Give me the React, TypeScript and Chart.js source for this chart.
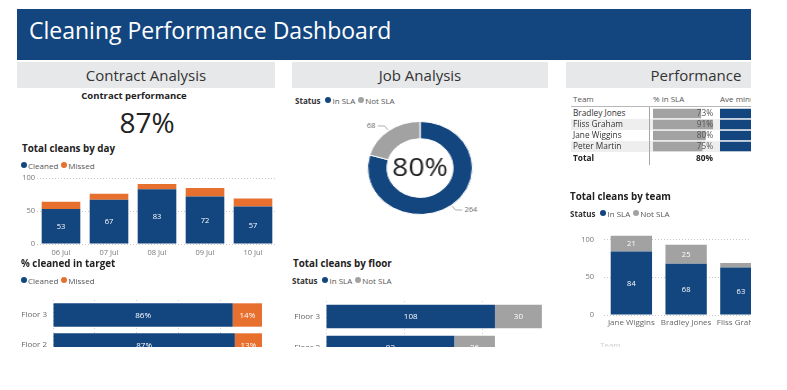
import React, { useEffect, useRef } from 'react';
import { Chart, registerables } from 'chart.js';

Chart.register(...registerables);

const FONT = '"Open Sans", "Noto Sans", sans-serif';
Chart.defaults.font.family = FONT;

const BLUE = '#13467F';
const ORANGE = '#E8702F';
const GRAY = '#A2A2A2';
const PANEL = '#E7E8EA';

// ---------------- data ----------------
const daySeries = ['Cleaned', 'Missed'];
const dayLabels = ['06 Jul', '07 Jul', '08 Jul', '09 Jul', '10 Jul'];
const dayCleaned = [53, 67, 83, 72, 57];
const dayMissed = [11, 9, 8, 13, 12];
const dayTicks = [0, 50, 100];

const contractPerformance = 87;

const targetFloors = ['Floor 3', 'Floor 2', 'Floor 1'];
const targetCleaned = [86, 87, 85];
const targetMissed = [14, 13, 15];
const targetTicks = [0, 20, 40, 60, 80, 100];

const slaSeries = ['In SLA', 'Not SLA'];
const jobValues = [264, 68];

const floorLabels = ['Floor 3', 'Floor 2', 'Floor 1'];
const floorInSla = [108, 82, 74];
const floorNotSla = [30, 26, 12];
const floorTicks = [0, 50, 100];

const teamLabels = ['Jane Wiggins', 'Bradley Jones', 'Fliss Graham', 'Peter Martin'];
const teamInSla = [84, 68, 63, 49];
const teamNotSla = [21, 25, 6, 16];
const teamTicks = [0, 50, 100];
const teamAxisTitle = 'Team';

const tableTeams = ['Bradley Jones', 'Fliss Graham', 'Jane Wiggins', 'Peter Martin'];
const tablePctSla = [73, 91, 80, 75];
const tableAveMin = [38, 41, 36, 40];
const tableTotalPct = 80;

// ---------------- helpers ----------------
function makeValueLabels(format: (v: number) => string, minLen = 12, size = 7.5) {
  return {
    id: 'valueLabels',
    afterDatasetsDraw(chart: any) {
      const { ctx } = chart;
      const horizontal = chart.options.indexAxis === 'y';
      ctx.save();
      ctx.font = `${size}px ${FONT}`;
      ctx.fillStyle = '#ffffff';
      ctx.textAlign = 'center';
      ctx.textBaseline = 'middle';
      chart.data.datasets.forEach((ds: any, di: number) => {
        if (ds.noLabels) return;
        const meta = chart.getDatasetMeta(di);
        meta.data.forEach((el: any, i: number) => {
          const p = el.getProps(['x', 'y', 'base'], true);
          const len = Math.abs(p.base - (horizontal ? p.x : p.y));
          if (len < minLen) return;
          const cx = horizontal ? (p.x + p.base) / 2 : p.x;
          const cy = horizontal ? p.y : (p.y + p.base) / 2;
          ctx.fillText(format(ds.data[i]), cx, cy + 0.5);
        });
      });
      ctx.restore();
    },
  };
}

const donutDecor = {
  id: 'donutDecor',
  afterDatasetsDraw(chart: any) {
    const { ctx } = chart;
    const meta = chart.getDatasetMeta(0);
    const data = chart.data.datasets[0].data as number[];
    const total = data.reduce((a, b) => a + b, 0);
    ctx.save();
    let cxx = 0, cyy = 0;
    meta.data.forEach((arc: any, i: number) => {
      const { x, y, startAngle, endAngle, outerRadius } = arc.getProps(['x', 'y', 'startAngle', 'endAngle', 'outerRadius'], true);
      cxx = x; cyy = y;
      const mid = (startAngle + endAngle) / 2;
      const c = Math.cos(mid), s = Math.sin(mid);
      const p1 = { x: x + c * (outerRadius + 1), y: y + s * (outerRadius + 1) };
      const p2 = { x: x + c * (outerRadius + 6), y: y + s * (outerRadius + 6) };
      const dir = c >= 0 ? 1 : -1;
      const p3 = { x: p2.x + dir * 6, y: p2.y };
      ctx.strokeStyle = '#9a9a9a';
      ctx.lineWidth = 0.8;
      ctx.beginPath();
      ctx.moveTo(p1.x, p1.y);
      ctx.lineTo(p2.x, p2.y);
      ctx.lineTo(p3.x, p3.y);
      ctx.stroke();
      ctx.fillStyle = '#666';
      ctx.font = `6.5px ${FONT}`;
      ctx.textBaseline = 'middle';
      ctx.textAlign = dir > 0 ? 'left' : 'right';
      ctx.fillText(String(data[i]), p3.x + dir * 2, p3.y);
    });
    ctx.fillStyle = '#222';
    ctx.font = `25px ${FONT}`;
    ctx.textAlign = 'center';
    ctx.textBaseline = 'middle';
    ctx.fillText(`${Math.round((data[0] / total) * 100)}%`, cxx, cyy + 1);
    ctx.restore();
  },
};

function ChartBox({ left, top, width, height, make, style }: any) {
  const ref = useRef<HTMLCanvasElement>(null);
  useEffect(() => {
    const chart = new Chart(ref.current as HTMLCanvasElement, make());
    return () => chart.destroy();
  }, []);
  return (
    <div style={{ position: 'absolute', left, top, width, height, ...(style || {}) }}>
      <canvas ref={ref} />
    </div>
  );
}

function Txt({ x, y, size, children, weight = 400, color = '#333', align = 'left' }: any) {
  const tx = align === 'center' ? '-50%' : align === 'right' ? '-100%' : '0';
  return (
    <div
      style={{
        position: 'absolute', left: x, top: y - size / 2, fontSize: size, lineHeight: `${size}px`,
        fontWeight: weight, color, whiteSpace: 'nowrap', transform: `translateX(${tx})`, fontFamily: FONT,
      }}
    >
      {children}
    </div>
  );
}

function Legend({ x, y, items, status }: any) {
  return (
    <div
      style={{
        position: 'absolute', left: x, top: y - 5, height: 10, display: 'flex', alignItems: 'center',
        fontSize: 8, color: '#555', whiteSpace: 'nowrap', fontFamily: FONT,
      }}
    >
      {status && <span style={{ fontWeight: 700, color: '#333', marginRight: 5 }}>Status</span>}
      {items.map((it: any) => (
        <span key={it.label} style={{ display: 'flex', alignItems: 'center', marginRight: 3 }}>
          <span style={{ width: 6, height: 6, borderRadius: 3, background: it.color, marginRight: 1, display: 'inline-block' }} />
          {it.label}
        </span>
      ))}
    </div>
  );
}

const baseOpts = {
  animation: false,
  responsive: true,
  maintainAspectRatio: false,
  plugins: { legend: { display: false }, tooltip: { enabled: false } },
};

const tickFont = { size: 7.5 };

const fixY = (w: number) => (s: any) => { s.width = w; s.paddingTop = 0; s.paddingBottom = 0; };
const fixX = (h: number) => (s: any) => { s.height = h; s.paddingLeft = 0; s.paddingRight = 0; };

// ---------------- chart configs ----------------
const makeDay = () => ({
  type: 'bar',
  data: {
    labels: dayLabels,
    datasets: [
      { label: daySeries[0], data: dayCleaned, backgroundColor: BLUE, barPercentage: 0.805, categoryPercentage: 1 },
      { label: daySeries[1], data: dayMissed, backgroundColor: ORANGE, barPercentage: 0.805, categoryPercentage: 1, noLabels: true },
    ],
  },
  options: {
    ...baseOpts,
    layout: { padding: { top: 6, left: 0, right: 0, bottom: 0 } },
    scales: {
      x: {
        stacked: true, grid: { display: false, drawTicks: false }, border: { display: false },
        ticks: { color: '#777', font: tickFont, padding: 4, maxRotation: 0 },
        afterFit: fixX(14),
      },
      y: {
        stacked: true, min: 0, max: 100,
        afterBuildTicks: (s: any) => { s.ticks = dayTicks.map((v) => ({ value: v })); },
        grid: { color: '#c8c8c8', drawTicks: false },
        border: { display: false, dash: [1, 2] },
        ticks: { color: '#777', font: tickFont, padding: 2 },
        afterFit: fixY(20),
      },
    },
  },
  plugins: [makeValueLabels((v) => String(v))],
});

const makeTarget = () => ({
  type: 'bar',
  data: {
    labels: targetFloors,
    datasets: [
      { label: daySeries[0], data: targetCleaned, backgroundColor: BLUE, barPercentage: 0.78, categoryPercentage: 1 },
      { label: daySeries[1], data: targetMissed, backgroundColor: ORANGE, barPercentage: 0.78, categoryPercentage: 1 },
    ],
  },
  options: {
    ...baseOpts,
    indexAxis: 'y',
    layout: { padding: { top: 4, left: 0, right: 0, bottom: 0 } },
    scales: {
      x: {
        stacked: true, min: 0, max: 100,
        afterBuildTicks: (s: any) => { s.ticks = targetTicks.map((v) => ({ value: v })); },
        grid: { color: '#d0d0d0', drawTicks: false },
        border: { display: false, dash: [1, 3] },
        ticks: { display: false },
        afterFit: fixX(0),
      },
      y: {
        stacked: true, grid: { display: false, drawTicks: false }, border: { display: false },
        ticks: { color: '#666', font: { size: 8 }, padding: 6 },
        afterFit: fixY(40),
      },
    },
  },
  plugins: [makeValueLabels((v) => `${v}%`, 12, 8)],
});

const makeDonut = () => ({
  type: 'doughnut',
  data: {
    labels: slaSeries,
    datasets: [{ data: jobValues, backgroundColor: [BLUE, GRAY], borderColor: '#ffffff', borderWidth: 1 }],
  },
  options: {
    ...baseOpts,
    cutout: '63%',
    layout: { padding: { left: 23, right: 23, top: 8, bottom: 8 } },
  },
  plugins: [donutDecor],
});

const makeFloor = () => ({
  type: 'bar',
  data: {
    labels: floorLabels,
    datasets: [
      { label: slaSeries[0], data: floorInSla, backgroundColor: BLUE, barPercentage: 0.755, categoryPercentage: 1 },
      { label: slaSeries[1], data: floorNotSla, backgroundColor: GRAY, barPercentage: 0.755, categoryPercentage: 1 },
    ],
  },
  options: {
    ...baseOpts,
    indexAxis: 'y',
    layout: { padding: { top: 4, left: 0, right: 0, bottom: 0 } },
    scales: {
      x: {
        stacked: true, min: 0, max: 140,
        afterBuildTicks: (s: any) => { s.ticks = floorTicks.map((v) => ({ value: v })); },
        grid: { color: '#d0d0d0', drawTicks: false },
        border: { display: false, dash: [1, 3] },
        ticks: { display: false },
        afterFit: fixX(0),
      },
      y: {
        stacked: true, grid: { display: false, drawTicks: false }, border: { display: false },
        ticks: { color: '#666', font: { size: 8 }, padding: 6 },
        afterFit: fixY(40),
      },
    },
  },
  plugins: [makeValueLabels((v) => String(v), 12, 8)],
});

const makeTeam = () => ({
  type: 'bar',
  data: {
    labels: teamLabels,
    datasets: [
      { label: slaSeries[0], data: teamInSla, backgroundColor: BLUE, barPercentage: 0.755, categoryPercentage: 1 },
      { label: slaSeries[1], data: teamNotSla, backgroundColor: GRAY, barPercentage: 0.755, categoryPercentage: 1 },
    ],
  },
  options: {
    ...baseOpts,
    layout: { padding: { top: 6, left: 0, right: 0, bottom: 0 } },
    scales: {
      x: {
        stacked: true, grid: { display: false, drawTicks: false }, border: { display: false },
        ticks: { color: '#666', font: { size: 8 }, padding: 3, maxRotation: 0 },
        afterFit: fixX(35),
      },
      y: {
        stacked: true, min: 0, max: 110,
        afterBuildTicks: (s: any) => { s.ticks = teamTicks.map((v) => ({ value: v })); },
        grid: { color: '#c8c8c8', drawTicks: false },
        border: { display: false, dash: [1, 2] },
        ticks: { color: '#777', font: tickFont, padding: 10 },
        afterFit: fixY(39),
      },
    },
  },
  plugins: [makeValueLabels((v) => String(v))],
});

const hiddenAxes = (max: number) => ({
  x: { display: false, min: 0, max },
  y: { display: false },
});

const makeTablePct = () => ({
  type: 'bar',
  data: {
    labels: tableTeams,
    datasets: [{ data: tablePctSla, backgroundColor: GRAY, barPercentage: 0.86, categoryPercentage: 1 }],
  },
  options: { ...baseOpts, indexAxis: 'y', layout: { padding: 0 }, scales: hiddenAxes(95.5) },
});

const makeTableMin = () => ({
  type: 'bar',
  data: {
    labels: tableTeams,
    datasets: [{ data: tableAveMin, backgroundColor: BLUE, barPercentage: 0.86, categoryPercentage: 1 }],
  },
  options: { ...baseOpts, indexAxis: 'y', layout: { padding: 0 }, scales: hiddenAxes(45) },
});

// ---------------- app ----------------
export default function App() {
  const rowTop = 108;
  const rowH = 11;
  return (
    <div style={{ position: 'absolute', left: 0, top: 0, width: 787, height: 390, background: '#fff', fontFamily: FONT }}>
      <div style={{ position: 'absolute', left: 0, top: 0, width: 751, height: 347, overflow: 'hidden' }}>
        {/* banner */}
        <div style={{ position: 'absolute', left: 17, top: 9, width: 734, height: 51, background: BLUE }} />
        <Txt x={29} y={30} size={23} color="#ffffff">Cleaning Performance Dashboard</Txt>

        {/* section headers */}
        <div style={{ position: 'absolute', left: 17, top: 62, width: 258, height: 26, background: PANEL }} />
        <div style={{ position: 'absolute', left: 292, top: 62, width: 256, height: 26, background: PANEL }} />
        <div style={{ position: 'absolute', left: 566, top: 62, width: 260, height: 26, background: PANEL }} />
        <Txt x={146} y={75.5} size={15} align="center">Contract Analysis</Txt>
        <Txt x={420} y={75.5} size={15} align="center">Job Analysis</Txt>
        <Txt x={696} y={75.5} size={15} align="center">Performance</Txt>

        {/* contract analysis */}
        <Txt x={134} y={95.5} size={9.5} weight={700} color="#222" align="center">Contract performance</Txt>
        <Txt x={147} y={122} size={28} color="#222" align="center">{contractPerformance}%</Txt>

        <Txt x={22} y={148.5} size={9.8} weight={700} color="#222">Total cleans by day</Txt>
        <Legend x={21} y={165} items={[{ label: daySeries[0], color: BLUE }, { label: daySeries[1], color: ORANGE }]} />
        <ChartBox left={17} top={172} width={260} height={86} make={makeDay} />

        <Txt x={21} y={264} size={9.8} weight={700} color="#222">% cleaned in target</Txt>
        <Legend x={21} y={280} items={[{ label: daySeries[0], color: BLUE }, { label: daySeries[1], color: ORANGE }]} />
        <ChartBox left={13} top={296} width={249} height={94} make={makeTarget} />

        {/* job analysis */}
        <Legend x={295} y={100} status items={[{ label: slaSeries[0], color: BLUE }, { label: slaSeries[1], color: GRAY }]} />
        <ChartBox left={350} top={113} width={140} height={110} make={makeDonut}
          style={{ transform: 'scaleX(1.128)', transformOrigin: '50% 50%' }} />

        <Txt x={293} y={263.5} size={9.8} weight={700} color="#222">Total cleans by floor</Txt>
        <Legend x={292} y={280} status items={[{ label: slaSeries[0], color: BLUE }, { label: slaSeries[1], color: GRAY }]} />
        <ChartBox left={286} top={297} width={259} height={97} make={makeFloor} />

        {/* performance table */}
        <Txt x={573} y={99} size={8} color="#555">Team</Txt>
        <Txt x={653} y={99} size={8} color="#555">% in SLA</Txt>
        <Txt x={720} y={99} size={8} color="#555">Ave minutes</Txt>
        <div style={{ position: 'absolute', left: 571, top: 106, width: 255, height: 1, background: '#b8b8b8' }} />
        {tableTeams.map((t, i) => (
          <div key={t} style={{ position: 'absolute', left: 571, top: rowTop + i * rowH, width: 255, height: rowH, background: i % 2 === 1 ? '#EEEEEE' : '#ffffff' }} />
        ))}
        <ChartBox left={653} top={rowTop} width={63} height={rowH * 4} make={makeTablePct} />
        <ChartBox left={720} top={rowTop} width={60} height={rowH * 4} make={makeTableMin} />
        <div style={{ position: 'absolute', left: 649, top: 107, width: 1, height: 58, background: '#a8a8a8' }} />
        {tableTeams.map((t, i) => (
          <React.Fragment key={t}>
            <Txt x={573} y={rowTop + i * rowH + 5.5} size={8.3} color="#333">{t}</Txt>
            <Txt x={713} y={rowTop + i * rowH + 5.5} size={8.3} color="#555" align="right">{tablePctSla[i]}%</Txt>
          </React.Fragment>
        ))}
        <Txt x={573} y={158} size={8.3} weight={700} color="#222">Total</Txt>
        <Txt x={713} y={158} size={8.3} weight={700} color="#222" align="right">{tableTotalPct}%</Txt>

        <Txt x={570} y={197} size={9.8} weight={700} color="#222">Total cleans by team</Txt>
        <Legend x={570} y={213.3} status items={[{ label: slaSeries[0], color: BLUE }, { label: slaSeries[1], color: GRAY }]} />
        <ChartBox left={565} top={226} width={258} height={124} make={makeTeam} />
        <Txt x={600} y={345} size={8} color="#d0d0d0">{teamAxisTitle}</Txt>
      </div>
    </div>
  );
}
